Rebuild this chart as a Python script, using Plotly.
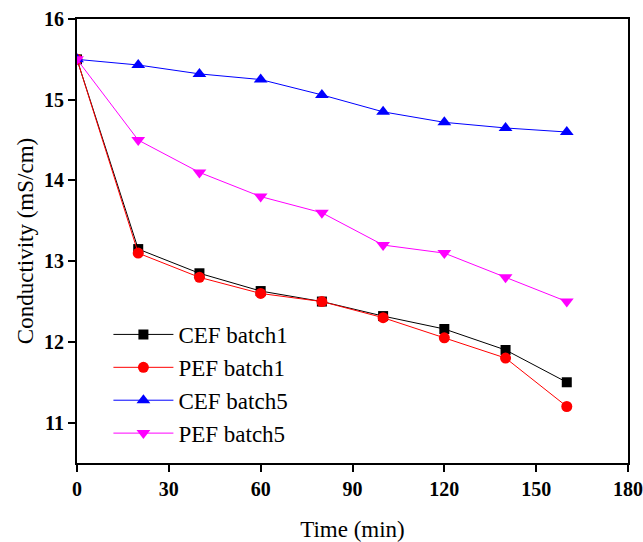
import plotly.graph_objects as go

time_min = [0, 20, 40, 60, 80, 100, 120, 140, 160]
cef_batch1 = [15.5, 13.15, 12.85, 12.63, 12.5, 12.32, 12.16, 11.9, 11.5]
pef_batch1 = [15.5, 13.1, 12.8, 12.6, 12.5, 12.3, 12.05, 11.8, 11.2]
cef_batch5 = [15.5, 15.43, 15.32, 15.25, 15.06, 14.85, 14.72, 14.65, 14.6]
pef_batch5 = [15.5, 14.5, 14.1, 13.8, 13.6, 13.2, 13.1, 12.8, 12.5]

series = [
    ("CEF batch1", cef_batch1, "black", "square", 10),
    ("PEF batch1", pef_batch1, "red", "circle", 11),
    ("CEF batch5", cef_batch5, "blue", "triangle-up", 12),
    ("PEF batch5", pef_batch5, "magenta", "triangle-down", 12),
]

serif = "Palatino Linotype, Book Antiqua, Liberation Serif, DejaVu Serif, serif"

fig = go.Figure()
for name, vals, color, symbol, size in series:
    fig.add_trace(go.Scatter(
        x=time_min, y=vals, name=name, mode="lines+markers",
        line=dict(color=color, width=1),
        marker=dict(symbol=symbol, size=size, color=color),
    ))

axis_common = dict(
    showline=True, linecolor="black", linewidth=2, mirror=True,
    ticks="outside", ticklen=7, tickwidth=2, tickcolor="black",
    showgrid=False, zeroline=False, automargin=False,
    tickfont=dict(family=serif, size=20, color="black", weight="bold"),
)

fig.update_layout(
    width=643, height=542,
    margin=dict(l=77, r=15, t=19, b=79),
    paper_bgcolor="white", plot_bgcolor="white",
    font=dict(family=serif, color="black"),
    xaxis=dict(range=[0, 180], tickvals=[0, 30, 60, 90, 120, 150, 180],
               title=dict(text="Time (min)", font=dict(family=serif, size=23), standoff=27),
               **axis_common),
    yaxis=dict(range=[10.5, 16], tickvals=[11, 12, 13, 14, 15, 16],
               title=dict(text="Conductivity (mS/cm)", font=dict(family=serif, size=23), standoff=4),
               **axis_common),
    legend=dict(x=0.057, y=0.178, xanchor="left", yanchor="middle",
                bgcolor="rgba(0,0,0,0)", font=dict(family=serif, size=23),
                tracegroupgap=0, itemwidth=60),
)

fig.write_html("out.html")
